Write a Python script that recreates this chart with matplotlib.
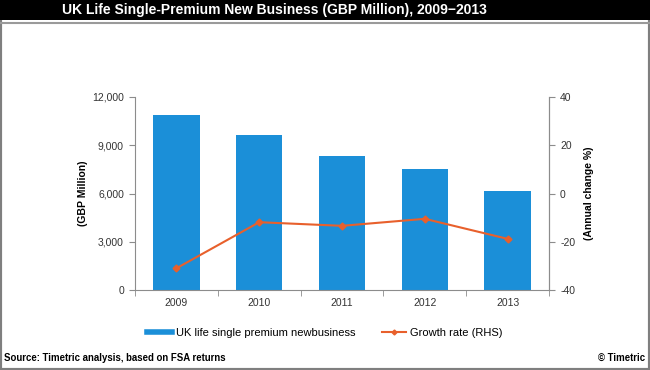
import matplotlib
matplotlib.use("Agg")
from matplotlib import pyplot as plt
from matplotlib.patches import Rectangle
from matplotlib.lines import Line2D

plt.rcParams['font.family'] = ['Liberation Sans', 'DejaVu Sans']
plt.rcParams['axes.unicode_minus'] = False

years = ['2009', '2010', '2011', '2012', '2013']
premium = [10880, 9640, 8330, 7505, 6155]
growth = [-31.0, -11.9, -13.4, -10.5, -18.8]

bar_color = '#1B8FD8'
line_color = '#E8602C'
grey = '#8C8C8C'

fig = plt.figure(figsize=(6.5, 3.7), dpi=100)

# frame and title bar
fig.patches.append(Rectangle((0, 0), 1, 1, transform=fig.transFigure,
                             facecolor='white', edgecolor='#7F7F7F', lw=3, zorder=-2))
fig.patches.append(Rectangle((0, 1 - 20 / 370), 1, 20 / 370, transform=fig.transFigure,
                             facecolor='black', edgecolor='none', zorder=-1))
fig.lines.append(Line2D([0, 1], [1 - 22.5 / 370] * 2, transform=fig.transFigure,
                        color='#9A9A9A', lw=1.5, zorder=-1))
fig.text(62 / 650, 1 - 10 / 370, 'UK Life Single-Premium New Business (GBP Million), 2009\u22122013',
         color='white', fontsize=10, fontweight='bold', va='center', ha='left')

ax = fig.add_axes([135 / 650, 1 - 290 / 370, 414 / 650, 193 / 370])
ax.patch.set_alpha(0)
x = list(range(len(years)))
ax.bar(x, premium, width=0.56, color=bar_color, zorder=2)
ax.set_xlim(-0.5, len(years) - 0.5)
ax.set_ylim(0, 12000)
yt = [0, 3000, 6000, 9000, 12000]
ax.set_yticks(yt)
ax.set_yticklabels([f'{v:,}' for v in yt])
ax.set_xticks(x)
ax.set_xticklabels(years)
ax.set_xticks([i + 0.5 for i in range(-1, len(years))], minor=True)
ax.tick_params(axis='x', which='major', length=0, pad=6, labelsize=7.5, colors='#333333')
ax.tick_params(axis='x', which='minor', length=4, color=grey, direction='out')
ax.tick_params(axis='y', length=4, color=grey, labelsize=7.5, labelcolor='#333333', pad=4)
ax.spines['top'].set_visible(False)
for s in ['left', 'bottom', 'right']:
    ax.spines[s].set_color(grey)
ax.set_ylabel('(GBP Million)', fontsize=7.5, fontweight='bold', labelpad=3)

ax2 = ax.twinx()
ax2.plot(x, growth, color=line_color, lw=1.5, marker='D', markersize=3.5, zorder=3)
ax2.set_ylim(-40, 40)
ax2.set_yticks([-40, -20, 0, 20, 40])
ax2.tick_params(axis='y', length=4, color=grey, labelsize=7.5, labelcolor='#333333', pad=4)
for s in ['top', 'left', 'bottom']:
    ax2.spines[s].set_visible(False)
ax2.spines['right'].set_color(grey)
ax2.set_ylabel('(Annual change %)', fontsize=7.5, fontweight='bold', labelpad=6)

handles = [Line2D([], [], color=bar_color, lw=4),
           Line2D([], [], color=line_color, lw=1.5, marker='D', markersize=2.5)]
fig.legend(handles, ['UK life single premium newbusiness', 'Growth rate (RHS)'],
           loc='center', bbox_to_anchor=(0.5, 1 - 333 / 370), ncol=2, frameon=False,
           fontsize=8, handlelength=2.2, columnspacing=2.4, handletextpad=0.35)

fig.text(4 / 650, 1 - 358 / 370, 'Source: Timetric analysis, based on FSA returns',
         fontsize=6.9, fontweight='bold', va='center', ha='left')
fig.text(645 / 650, 1 - 358 / 370, '\u00a9 Timetric',
         fontsize=6.9, fontweight='bold', va='center', ha='right')

fig.savefig('out.png', dpi=100)
